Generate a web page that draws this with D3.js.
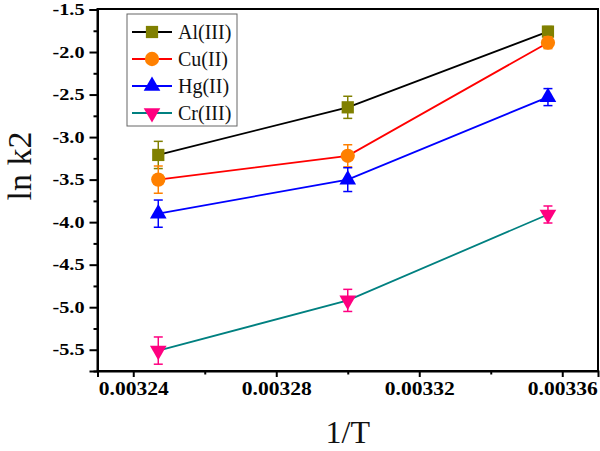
<!DOCTYPE html>
<html><head><meta charset="utf-8">
<script src="https://cdn.jsdelivr.net/npm/d3@7"></script>
<style>html,body{margin:0;padding:0;background:#fff;}</style>
</head><body>
<svg id="chart" width="600" height="451"></svg>
<script>
const xValues = [0.003247, 0.0033, 0.003356];
const seriesNames = ["Al(III)", "Cu(II)", "Hg(II)", "Cr(III)"];
const alValues = [-3.21, -2.65, -1.76];
const cuValues = [-3.50, -3.22, -1.89];
const hgValues = [-3.90, -3.50, -2.53];
const crValues = [-5.51, -4.92, -3.91];
const alErrors = [0.16, 0.13, 0.06];
const cuErrors = [0.16, 0.13, 0.07];
const hgErrors = [0.16, 0.14, 0.10];
const crErrors = [0.16, 0.13, 0.10];
const xTicks = [0.00324, 0.00328, 0.00332, 0.00336];
const xTickLabels = ["0.00324", "0.00328", "0.00332", "0.00336"];
const xMinorTicks = [0.00326, 0.0033, 0.00334];
const yTicks = [-1.5, -2.0, -2.5, -3.0, -3.5, -4.0, -4.5, -5.0, -5.5];
const yTickLabels = ["-1.5", "-2.0", "-2.5", "-3.0", "-3.5", "-4.0", "-4.5", "-5.0", "-5.5"];
const yMinorTicks = [-1.75, -2.25, -2.75, -3.25, -3.75, -4.25, -4.75, -5.25, -5.75];

const styles = [
  {line: "#000000", marker: "#808000", shape: "square"},
  {line: "#ff0000", marker: "#ff8000", shape: "circle"},
  {line: "#0000ff", marker: "#0000ff", shape: "up"},
  {line: "#008080", marker: "#ff0080", shape: "down"}
];
const allValues = [alValues, cuValues, hgValues, crValues];
const allErrors = [alErrors, cuErrors, hgErrors, crErrors];

const svg = d3.select("#chart");
const mLeft = 97.5, mRight = 598, mTop = 9, mBottom = 371;
const x = d3.scaleLinear().domain([0.00323, 0.00337]).range([mLeft, mRight]);
const y = d3.scaleLinear().domain([-5.75, -1.5]).range([mBottom, mTop + 0.5]);

function markerPath(shape) {
  if (shape === "square") return d3.symbol(d3.symbolSquare, 150)();
  if (shape === "circle") return d3.symbol(d3.symbolCircle, 160)();
  return d3.symbol(d3.symbolTriangle, 120)();
}

// frame
svg.append("rect").attr("x", mLeft).attr("y", mTop).attr("width", mRight - mLeft).attr("height", mBottom - mTop)
  .attr("fill", "none").attr("stroke", "#000").attr("stroke-width", 2);

// x axis ticks
const xAxis = d3.axisBottom(x).tickValues(xTicks).tickSize(6).tickFormat((d, i) => xTickLabels[i]);
const gx = svg.append("g").attr("transform", `translate(0,${mBottom})`).call(xAxis);
gx.attr("font-family", null).attr("font-size", null);
gx.select(".domain").attr("stroke-width", 2);
gx.selectAll(".tick line").attr("stroke-width", 2);
gx.selectAll(".tick text")
  .style("font-family", "'Liberation Serif', serif").style("font-weight", "700").style("font-size", "19px")
  .attr("fill", "#000").attr("y", 11).attr("dy", "0.71em")
  .each(function() {
    const w = this.getComputedTextLength();
    d3.select(this).attr("textLength", 70).attr("lengthAdjust", "spacingAndGlyphs");
  });
const gxm = svg.append("g").attr("transform", `translate(0,${mBottom})`)
  .call(d3.axisBottom(x).tickValues(xMinorTicks).tickSize(3.5).tickFormat(""));
gxm.select(".domain").remove();
gxm.selectAll(".tick line").attr("stroke-width", 2);

// y axis ticks
const yAxis = d3.axisLeft(y).tickValues(yTicks).tickSize(8).tickFormat((d, i) => yTickLabels[i]);
const gy = svg.append("g").attr("transform", `translate(${mLeft},0)`).call(yAxis);
gy.attr("font-family", null).attr("font-size", null);
gy.select(".domain").attr("stroke-width", 2);
gy.selectAll(".tick line").attr("stroke-width", 2);
gy.selectAll(".tick text")
  .style("font-family", "'Liberation Serif', serif").style("font-weight", "700").style("font-size", "16px")
  .attr("fill", "#000").attr("x", -13)
  .attr("textLength", 32).attr("lengthAdjust", "spacingAndGlyphs");
const gym = svg.append("g").attr("transform", `translate(${mLeft},0)`)
  .call(d3.axisLeft(y).tickValues(yMinorTicks).tickSize(4).tickFormat(""));
gym.select(".domain").remove();
gym.selectAll(".tick line").attr("stroke-width", 2);

// axis titles
svg.append("text").attr("x", (mLeft + mRight) / 2).attr("y", 443).attr("text-anchor", "middle")
  .attr("font-family", "Liberation Serif").attr("font-size", 32).attr("fill", "#111").text("1/T");
svg.append("text").attr("transform", "translate(31,166) rotate(-90)").attr("text-anchor", "middle")
  .attr("font-family", "Liberation Serif").attr("font-size", 34).attr("fill", "#111").text("ln k2");

// series
const line = d3.line().x((d, i) => x(xValues[i])).y(d => y(d));
allValues.forEach((vals, s) => {
  const st = styles[s];
  svg.append("path").datum(vals).attr("d", line).attr("fill", "none")
    .attr("stroke", st.line).attr("stroke-width", 1.8);
  const g = svg.append("g");
  vals.forEach((v, i) => {
    const cx = x(xValues[i]);
    const e = allErrors[s][i];
    const y1 = y(v + e), y2 = y(v - e);
    g.append("line").attr("x1", cx).attr("x2", cx).attr("y1", y1).attr("y2", y2)
      .attr("stroke", st.marker).attr("stroke-width", 1.5);
    [y1, y2].forEach(yy => g.append("line").attr("x1", cx - 4.5).attr("x2", cx + 4.5)
      .attr("y1", yy).attr("y2", yy).attr("stroke", st.marker).attr("stroke-width", 1.5));
  });
  vals.forEach((v, i) => {
    const cx = x(xValues[i]), cy = y(v);
    g.append("path").attr("d", markerPath(st.shape))
      .attr("transform", `translate(${cx},${cy})` + (st.shape === "down" ? " rotate(180)" : ""))
      .attr("fill", st.marker);
  });
});

// legend
const lg = svg.append("g");
lg.append("rect").attr("x", 127).attr("y", 14).attr("width", 110).attr("height", 112)
  .attr("fill", "#fff").attr("stroke", "#666").attr("stroke-width", 1);
seriesNames.forEach((name, s) => {
  const st = styles[s];
  const ly = 32 + s * 27;
  lg.append("line").attr("x1", 132).attr("x2", 172).attr("y1", ly).attr("y2", ly)
    .attr("stroke", st.line).attr("stroke-width", 1.8);
  lg.append("path").attr("d", markerPath(st.shape))
    .attr("transform", `translate(152,${ly})` + (st.shape === "down" ? " rotate(180)" : ""))
    .attr("fill", st.marker);
  lg.append("text").attr("x", 178).attr("y", ly + 7).attr("font-family", "Liberation Serif")
    .attr("font-size", 20).attr("fill", "#111").text(name);
});
</script>
</body></html>
